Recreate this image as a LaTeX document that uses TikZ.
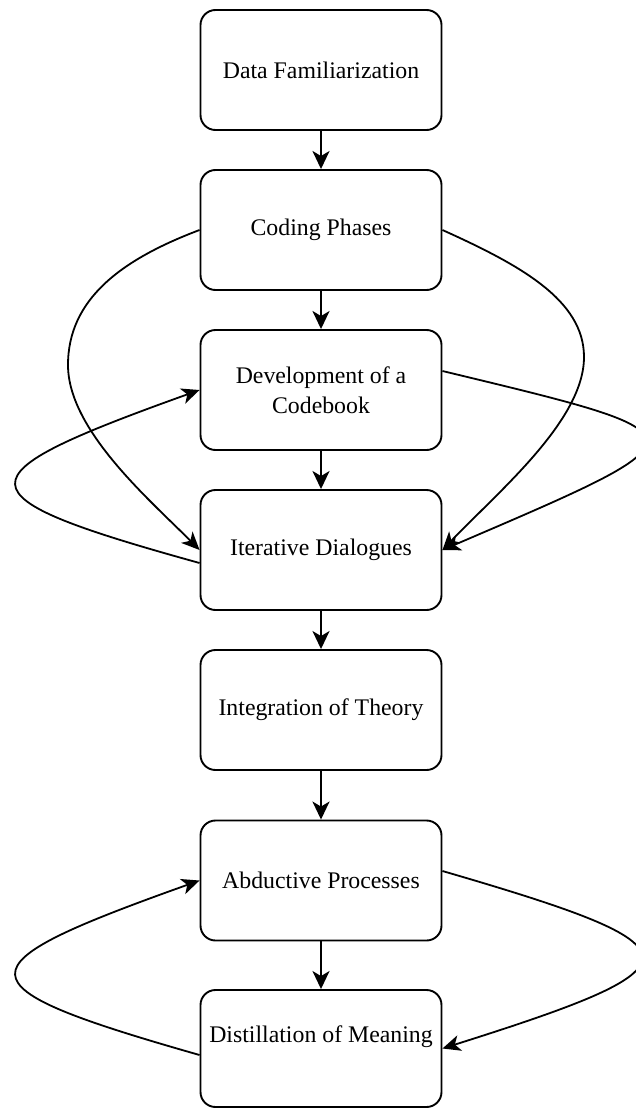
\documentclass[tikz,border=0pt]{standalone}
\usepackage{fontspec}
\setmainfont{Liberation Serif}
\usetikzlibrary{arrows.meta}
\begin{document}
\begin{tikzpicture}[x=1pt,y=-1pt,
  stage/.style={draw, line width=1.9pt, rounded corners=15pt, minimum width=241pt, minimum height=120pt, align=center, font=\fontsize{23.8}{29.5}\selectfont, inner sep=0pt},
  stagetext/.style={align=center, font=\fontsize{23.8}{29.5}\selectfont, inner sep=0pt},
  flow/.style={line width=2.5pt, -{Stealth[length=18pt,width=17pt,inset=5pt]}},
  loopback/.style={line width=1.8pt, -{Stealth[length=18pt,width=16pt,inset=5pt]}}]
\useasboundingbox (0,0) rectangle (636,1108);

\node[stage] (df) at (321,70) {Data Familiarization};
\node[stage] (cp) at (321,230) {Coding Phases};
\node[stage] (dev) at (321,390) {Development of a\\Codebook};
\node[stage] (it) at (321,550) {Iterative Dialogues};
\node[stage] (th) at (321,710) {Integration of Theory};
\node[stage] (ab) at (321,880.5) {Abductive Processes};
\node[stage, minimum height=117pt] (dm) at (321,1048.5) {};
\node[stagetext] (dmt) at (321,1037) {Distillation of Meaning};

\draw[flow] (df) -- (cp);
\draw[flow] (cp) -- (dev);
\draw[flow] (dev) -- (it);
\draw[flow] (it) -- (th);
\draw[flow] (th) -- (ab);
\draw[flow] (ab) -- (dm);

\draw[loopback] (cp.west) .. controls (120,260) and (68,300) .. (68,365) .. controls (68,430) and (150,500) .. (it.west);
\draw[loopback] (cp.east) .. controls (520,265) and (584,300) .. (584,357) .. controls (584,420) and (500,490) .. (it.east);
\draw[loopback] ([yshift=-13pt]it.west) .. controls (-46,495) and (-43,477) .. (dev.west);
\draw[loopback] ([yshift=19pt]dev.east) .. controls (712,436) and (713,434) .. (it.east);
\draw[loopback] ([yshift=-6.5pt]dm.west) .. controls (-46,985) and (-43,967) .. (ab.west);
\draw[loopback] ([yshift=9.5pt]ab.east) .. controls (707,948) and (707,965) .. (dm.east);
\end{tikzpicture}
\end{document}
